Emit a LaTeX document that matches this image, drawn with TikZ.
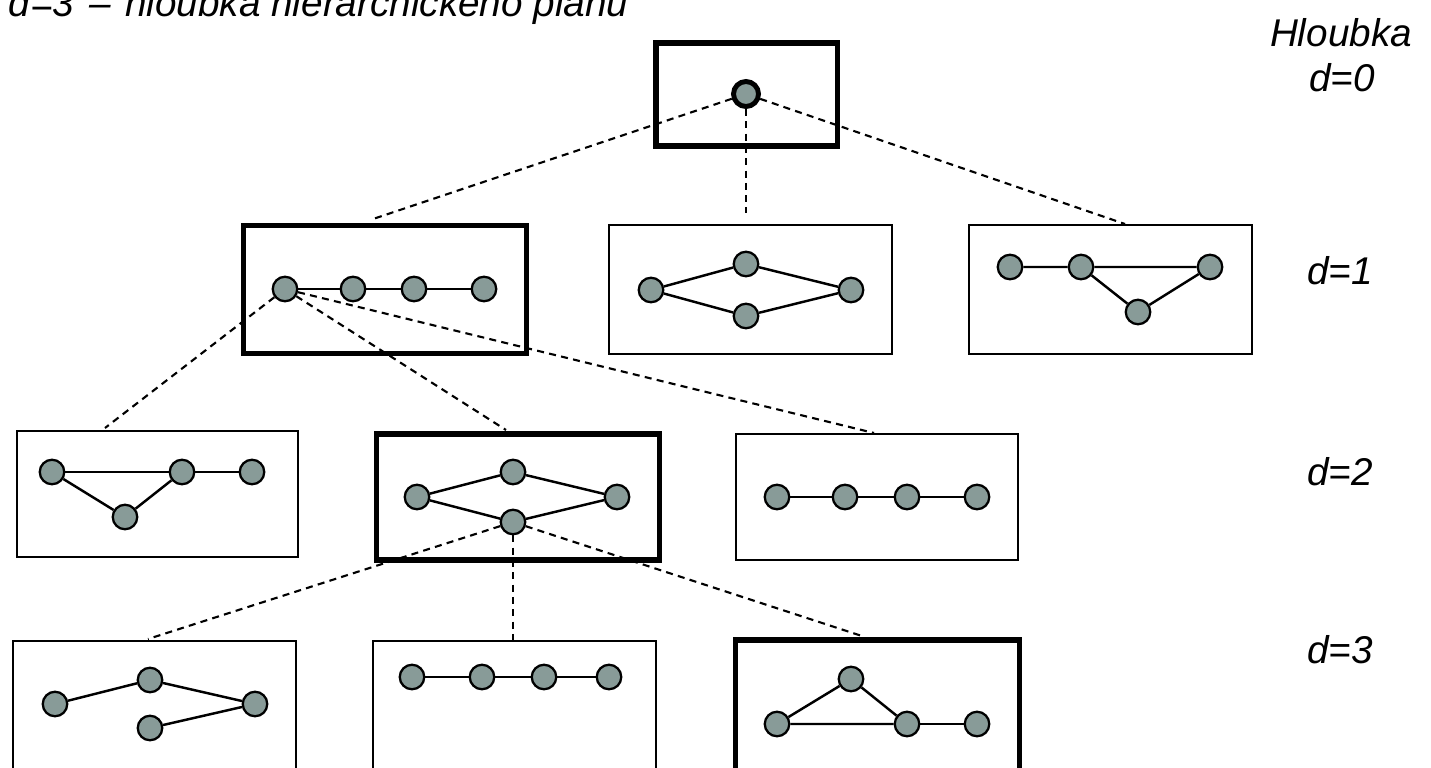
\documentclass[tikz,border=0pt]{standalone}
\usepackage{fontspec}
\setmainfont{Liberation Sans}
\definecolor{nodefill}{RGB}{136,155,152}
\tikzset{
  v/.style={circle, draw=black, fill=nodefill, minimum size=0.245cm, inner sep=0pt, line width=0.65pt},
  root/.style={circle, draw=black, fill=nodefill, minimum size=0.25cm, inner sep=0pt, line width=1.4pt},
  thinbox/.style={draw=black, line width=0.6pt, inner sep=0pt, minimum width=2.83cm},
  thickbox/.style={draw=black, line width=1.45pt, inner sep=0pt, minimum width=2.83cm},
  edge/.style={line width=0.7pt},
  dashline/.style={line width=0.6pt, dash pattern=on 2pt off 1.5pt},
  lab/.style={font=\fontsize{11}{13.2}\selectfont\itshape, inner sep=0pt, anchor=base}
}
\begin{document}
\begin{tikzpicture}[x=0.01cm,y=-0.01cm]
\useasboundingbox (0,0) rectangle (1431,767);
% boxes
\node[thickbox, minimum width=1.81cm, minimum height=1.03cm] (R) at (746.5,94.5) {};
\node[thickbox, minimum width=2.82cm, minimum height=1.28cm] (A) at (385,289.5) {};
\node[thinbox, minimum height=1.29cm] (B) at (750.5,289.5) {};
\node[thinbox, minimum height=1.29cm] (C) at (1110.5,289.5) {};
\node[thinbox, minimum width=2.81cm, minimum height=1.26cm] (D) at (157.5,494) {};
\node[thickbox, minimum height=1.26cm] (E) at (518,497) {};
\node[thinbox, minimum width=2.82cm, minimum height=1.26cm] (F) at (877,497) {};
\node[thinbox, minimum height=1.30cm] (G) at (154.5,706) {};
\node[thinbox, minimum height=1.30cm] (H) at (514.5,706) {};
\node[thickbox, minimum width=2.84cm, minimum height=1.30cm] (I) at (877.5,705) {};

% ends of dashed connectors
\coordinate (tA) at (373,219);
\coordinate (tB) at (746,213);
\coordinate (tC) at (1125,224);
\coordinate (tD) at (105,428);
\coordinate (tE) at (506,430);
\coordinate (tF) at (874,433);
\coordinate (tG) at (148,639);
\coordinate (tH) at (513,640);
\coordinate (tI) at (865,637);

% root
\node[root] (r) at (746,94) {};
% A
\node[v] (a1) at (285,289) {};
\node[v] (a2) at (353,289) {};
\node[v] (a3) at (414,289) {};
\node[v] (a4) at (484,289) {};
% B
\node[v] (b1) at (651,290) {};
\node[v] (b2) at (746,264) {};
\node[v] (b3) at (746,316) {};
\node[v] (b4) at (851,290) {};
% C
\node[v] (c1) at (1010,267) {};
\node[v] (c2) at (1081,267) {};
\node[v] (c3) at (1210,267) {};
\node[v] (c4) at (1138,312) {};
% D
\node[v] (d1) at (52,472) {};
\node[v] (d2) at (182,472) {};
\node[v] (d3) at (252,472) {};
\node[v] (d4) at (125,517) {};
% E
\node[v] (e1) at (417,497) {};
\node[v] (e2) at (513,472) {};
\node[v] (e3) at (617,497) {};
\node[v] (e4) at (513,522) {};
% F
\node[v] (f1) at (777,497) {};
\node[v] (f2) at (845,497) {};
\node[v] (f3) at (907,497) {};
\node[v] (f4) at (977,497) {};
% G
\node[v] (g1) at (55,704) {};
\node[v] (g2) at (150,680) {};
\node[v] (g3) at (255,704) {};
\node[v] (g4) at (150,728) {};
% H
\node[v] (h1) at (412,677) {};
\node[v] (h2) at (482,677) {};
\node[v] (h3) at (544,677) {};
\node[v] (h4) at (609,677) {};
% I
\node[v] (i1) at (777,724) {};
\node[v] (i2) at (851,679) {};
\node[v] (i3) at (907,724) {};
\node[v] (i4) at (977,724) {};

% solid edges
\draw[edge] (a1) -- (a2) -- (a3) -- (a4);
\draw[edge] (b1) -- (b2) -- (b4) -- (b3) -- (b1);
\draw[edge] (c1) -- (c2) -- (c3) -- (c4) -- (c2);
\draw[edge] (d1) -- (d2) -- (d3);
\draw[edge] (d1) -- (d4) -- (d2);
\draw[edge] (e1) -- (e2) -- (e3) -- (e4) -- (e1);
\draw[edge] (f1) -- (f2) -- (f3) -- (f4);
\draw[edge] (g1) -- (g2) -- (g3) -- (g4);
\draw[edge] (h1) -- (h2) -- (h3) -- (h4);
\draw[edge] (i1) -- (i2) -- (i3) -- (i1);
\draw[edge] (i3) -- (i4);

% dashed connectors
\draw[dashline] (r) -- (tA);
\draw[dashline] (r) -- (tB);
\draw[dashline] (r) -- (tC);
\draw[dashline] (a1) -- (tD);
\draw[dashline] (a1) -- (tE);
\draw[dashline] (a1) -- (tF);
\draw[dashline] (e4) -- (tG);
\draw[dashline] (e4) -- (tH);
\draw[dashline] (e4) -- (tI);

% labels
\node[lab, anchor=base west] (title) at (8,17) {d=3\hspace{0.38em}–\hspace{0.38em}hloubka hierarchického plánu};
\node[lab] (hl) at (1341,47) {Hloubka};
\node[lab] (l0) at (1342,92) {d=0};
\node[lab] (l1) at (1340,284) {d=1};
\node[lab] (l2) at (1340,485) {d=2};
\node[lab] (l3) at (1340,663) {d=3};
\end{tikzpicture}
\end{document}
